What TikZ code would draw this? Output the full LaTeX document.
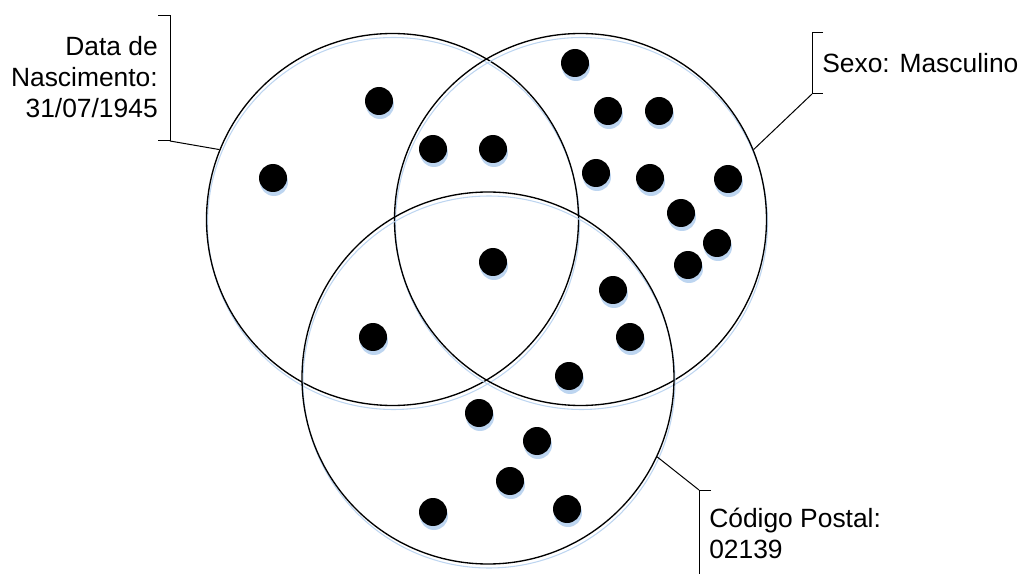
\documentclass[tikz,border=0pt]{standalone}
\usepackage{fontspec}
\setmainfont{Liberation Sans}
\usetikzlibrary{shadows}
\definecolor{sombra}{RGB}{189,213,240}

\begin{document}
\begin{tikzpicture}[x=0.75pt,y=-0.75pt,
  conjunto/.style={draw,circle,line width=1pt,minimum size=279pt,inner sep=0pt,
    preaction={draw=sombra,line width=0.8pt,transform canvas={shift={(0.75pt,-3pt)}}}},
  ponto/.style={circle,fill=black,minimum size=21pt,inner sep=0pt,
    drop shadow={shadow xshift=0.75pt,shadow yshift=-3pt,fill=sombra,opacity=1}},
  rotulo/.style={inner sep=0pt,font=\fontsize{19.8}{23.25}\selectfont},
  chave/.style={line width=0.75pt}]
\useasboundingbox (0,0) rectangle (1022,574);
% os tres conjuntos
\node[conjunto] (nasc) at (392.5,219.5) {};
\node[conjunto] (sexo) at (580.5,219.5) {};
\node[conjunto] (cep) at (488,378) {};
% pessoas
\node[ponto] (p1) at (379,101) {};
\node[ponto] (p2) at (273,178) {};
\node[ponto] (p3) at (433,149) {};
\node[ponto] (p4) at (493,149) {};
\node[ponto] (p5) at (575,63) {};
\node[ponto] (p6) at (608,111) {};
\node[ponto] (p7) at (659,111) {};
\node[ponto] (p8) at (596,173) {};
\node[ponto] (p9) at (650,178) {};
\node[ponto] (p10) at (728,179) {};
\node[ponto] (p11) at (681,213) {};
\node[ponto] (p12) at (717,243) {};
\node[ponto] (p13) at (688,265) {};
\node[ponto] (p14) at (493,262) {};
\node[ponto] (p15) at (613,290) {};
\node[ponto] (p16) at (630,337) {};
\node[ponto] (p17) at (373,337) {};
\node[ponto] (p18) at (569,376) {};
\node[ponto] (p19) at (479,413) {};
\node[ponto] (p20) at (537,441) {};
\node[ponto] (p21) at (510,481) {};
\node[ponto] (p22) at (433,512) {};
\node[ponto] (p23) at (567,509) {};
% rotulos
\node[rotulo,anchor=east,align=right] (tnasc) at (158,77) {Data de\\Nascimento:\\31/07/1945};
\node[rotulo,anchor=west] (tsexo) at (822,63) {Sexo: Masculino};
\node[rotulo,anchor=west,align=left] (tcep) at (709,533) {Código Postal:\\02139};
\coordinate (bnasc) at (170,141);
\coordinate (bsexo) at (812,94);
\coordinate (bcep) at (699,490);
\draw[chave] (158,16) -- (170,16) -- (bnasc) -- (158,141);
\draw[chave] (823,33) -- (812,33) -- (bsexo) -- (823,94);
\draw[chave] (711,490) -- (bcep) -- (699,574);
\draw[chave] (bnasc) -- (nasc.158.5);
\draw[chave] (bsexo) -- (sexo.22.9);
\draw[chave] (bcep) -- (cep.-25);
\end{tikzpicture}
\end{document}
